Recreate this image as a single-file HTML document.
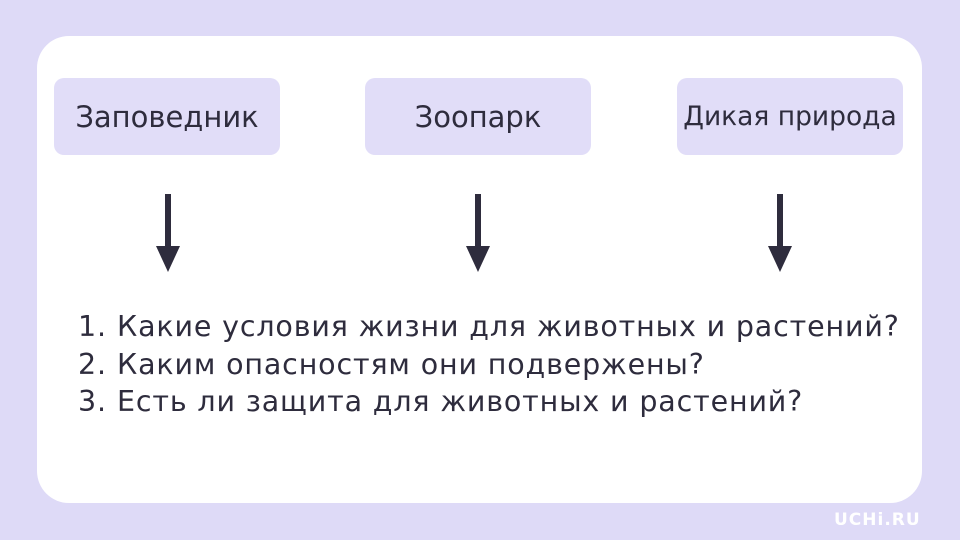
<!DOCTYPE html>
<html><head><meta charset="utf-8"><style>
body{margin:0;width:960px;height:540px;background:#dedaf7;position:relative;overflow:hidden;font-family:"DejaVu Sans","Liberation Sans",sans-serif;color:#2e2c3d}
.card{position:absolute;left:37px;top:36px;width:885px;height:467px;background:#fff;border-radius:32px}
.box{position:absolute;top:78px;width:226px;height:77px;background:#e1ddf8;border-radius:10px;display:flex;align-items:center;justify-content:center;font-size:29px;white-space:nowrap}
.arr{position:absolute;top:194px;width:26px;height:80px}
.list{position:absolute;left:78px;top:308px;font-size:28.5px;line-height:37.5px;letter-spacing:0.85px;white-space:nowrap}
.list span{display:inline-block;width:39px}
.logo{position:absolute;left:834px;top:510px;color:#fff;font-size:17px;font-weight:bold;letter-spacing:1px}
</style></head><body>
<div class="card"></div>
<div class="box" style="left:54px">Заповедник</div>
<div class="box" style="left:365px">Зоопарк</div>
<div class="box" style="left:677px;font-size:26.5px">Дикая природа</div>
<svg class="arr" style="left:155px"><rect x="10" y="0" width="6" height="56" fill="#2e2c3d"/><polygon points="1,52 25,52 13,78" fill="#2e2c3d"/></svg>
<svg class="arr" style="left:465px"><rect x="10" y="0" width="6" height="56" fill="#2e2c3d"/><polygon points="1,52 25,52 13,78" fill="#2e2c3d"/></svg>
<svg class="arr" style="left:767px"><rect x="10" y="0" width="6" height="56" fill="#2e2c3d"/><polygon points="1,52 25,52 13,78" fill="#2e2c3d"/></svg>
<div class="list">
<div><span>1.</span>Какие условия жизни для животных и растений?</div>
<div><span>2.</span>Каким опасностям они подвержены?</div>
<div><span>3.</span>Есть ли защита для животных и растений?</div>
</div>
<div class="logo">UCHi.RU</div>
</body></html>
